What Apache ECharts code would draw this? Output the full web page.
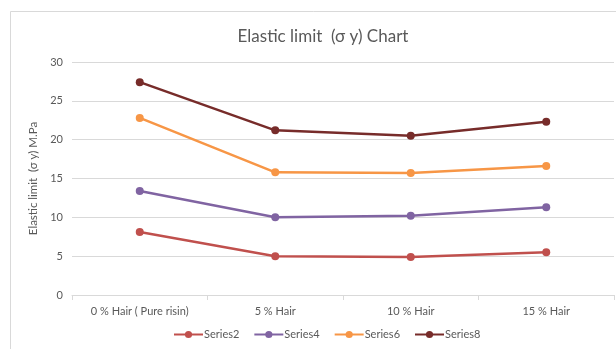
<!DOCTYPE html>
<html>
<head>
<meta charset="utf-8">
<script src="https://cdn.jsdelivr.net/npm/echarts@6/dist/echarts.min.js"></script>
<style>
  html, body { margin: 0; padding: 0; background: #ffffff; }
  #chart { width: 616px; height: 349px; }
</style>
</head>
<body>
<div id="chart"></div>
<script>
// Hair content categories
var categories = ['0 % Hair ( Pure risin)', '5 % Hair', '10 % Hair', '15 % Hair'];

// Elastic limit values (M.Pa)
var series2 = [8.1, 5.0, 4.9, 5.5];
var series4 = [13.4, 10.0, 10.2, 11.3];
var series6 = [22.8, 15.8, 15.7, 16.6];
var series8 = [27.4, 21.2, 20.5, 22.3];

var seriesNames = ['Series2', 'Series4', 'Series6', 'Series8'];
var seriesData = [series2, series4, series6, series8];
var seriesColors = ['#c0504d', '#8064a2', '#f79646', '#772c2a'];

var FONT = 'Lato, "Open Sans", sans-serif';
var TEXT = '#595959';
var LINE = '#d9d9d9';

var chart = echarts.init(document.getElementById('chart'), null, { renderer: 'canvas' });

chart.setOption({
  backgroundColor: '#ffffff',
  animation: false,
  graphic: [{
    type: 'rect',
    shape: { x: 10.5, y: 11.5, width: 700, height: 400 },
    style: { fill: 'none', stroke: LINE, lineWidth: 1 },
    silent: true,
    z: -10
  }],
  title: {
    text: 'Elastic limit  (σ y) Chart',
    left: 318,
    top: 23,
    textAlign: 'center',
    textStyle: { fontFamily: FONT, fontSize: 17, fontWeight: 'normal', color: TEXT }
  },
  legend: {
    data: seriesNames,
    bottom: 4,
    left: 168,
    itemWidth: 29,
    itemHeight: 9,
    itemGap: 14,
    textStyle: { fontFamily: FONT, fontSize: 11, color: TEXT, padding: [0, 0, 0, -4] }
  },
  grid: { left: 72, right: 2, top: 62, bottom: 54, containLabel: false },
  xAxis: {
    type: 'category',
    data: categories,
    boundaryGap: true,
    axisLine: { show: true, lineStyle: { color: LINE, width: 1 } },
    axisTick: { show: true, alignWithLabel: false, length: 5, lineStyle: { color: LINE } },
    axisLabel: { fontFamily: FONT, fontSize: 11, color: TEXT, margin: 11 }
  },
  yAxis: {
    type: 'value',
    min: 0,
    max: 30,
    interval: 5,
    name: 'Elastic limit  (σ y) M.Pa',
    nameLocation: 'middle',
    nameGap: 30,
    nameTextStyle: { fontFamily: FONT, fontSize: 11.5, color: TEXT },
    axisLine: { show: false },
    axisTick: { show: false },
    axisLabel: { fontFamily: FONT, fontSize: 11, color: TEXT, margin: 9 },
    splitLine: { show: true, lineStyle: { color: LINE, width: 1 } }
  },
  series: seriesNames.map(function (name, i) {
    return {
      name: name,
      type: 'line',
      data: seriesData[i],
      symbol: 'circle',
      symbolSize: 8,
      color: seriesColors[i],
      lineStyle: { width: 2.5, color: seriesColors[i] },
      itemStyle: { color: seriesColors[i] }
    };
  })
});
</script>
</body>
</html>
